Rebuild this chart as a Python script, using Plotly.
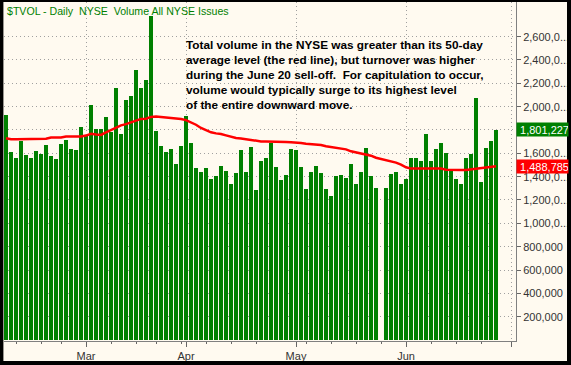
import plotly.graph_objects as go

# ---------------- data ----------------
# daily NYSE total volume (shares); one slot per trading day, None = holiday gap
volume = [
    1931000, 1614000, 1562000, 1708000, 1588000, 1562000, 1622000, 1597000, 1674000, 1579000,
    1554000, 1682000, 1717000, 1640000, 1631000, 1828000, 1751000, 2017000, 1811000, 1811000,
    1914000, 1785000, 2163000, 1768000, 2060000, 2094000, 2318000, 2163000, 2232000, 2773000,
    1794000, 1665000, 1614000, 1640000, 1511000,
    1665000, 1923000, 1691000, 1476000, 1442000, 1476000, 1382000, 1408000, 1494000, 1451000,
    1339000, 1433000, 1631000, 1442000, 1657000, 1288000, 1536000, 1562000, 1691000, 1485000,
    1373000, 1416000, 1640000, 1631000, 1485000, 1296000, 1442000, 1494000, 1433000, 1296000,
    1236000, 1408000, 1416000, 1391000,
    1511000, 1339000, 1442000, 1648000, 1408000, 1305000, None, 1305000, 1425000, 1442000,
    1339000, 1382000, 1562000, 1562000, 1536000, 1768000, 1536000, 1640000, 1691000, 1605000,
    1459000, 1382000, 1339000, 1562000, 1597000, 2077000, 1356000, 1648000, 1708000, 1801227,
]

# 50-day moving average of volume (red line)
ma50 = [
    1730000, 1720000, 1720000, 1720000, 1720000, 1720000, 1725000, 1725000, 1725000, 1735000,
    1735000, 1735000, 1745000, 1745000, 1745000, 1745000, 1752000, 1768000, 1762000, 1758000,
    1780000, 1800000, 1822000, 1840000, 1850000, 1865000, 1875000, 1895000, 1897000, 1912000,
    1915000, 1912000, 1906000, 1904000, 1900000,
    1895000, 1885000, 1868000, 1845000, 1817000, 1800000, 1780000, 1771000, 1766000, 1754000,
    1740000, 1731000, 1728000, 1720000, 1714000, 1708000, 1702000, 1702000, 1702000, 1700000,
    1697000, 1697000, 1694000, 1694000, 1688000, 1682000, 1677000, 1677000, 1671000, 1660000,
    1654000, 1645000, 1640000, 1634000,
    1617000, 1608000, 1602000, 1594000, 1580000, 1562000, None, 1543000, 1532000, 1520000,
    1503000, 1480000, 1469000, 1469000, 1469000, 1469000, 1469000, 1469000, 1469000, 1460000,
    1457000, 1457000, 1457000, 1457000, 1462000, 1471000, 1474000, 1476000, 1483000, 1488785,
]

slots = list(range(len(volume)))

month_slots = [16, 36, 58, 80, 101]
month_labels = ["Mar", "Apr", "May", "Jun", ""]
week_slots = [2, 7, 11, 21, 26, 30, 35, 40, 45, 50, 60, 65, 70, 75, 85, 90, 95]

y_tick_vals = [200000, 400000, 600000, 800000, 1000000, 1200000, 1400000,
               1600000, 1800000, 2000000, 2200000, 2400000, 2600000]
y_tick_text = ["200,000", "400,000", "600,000", "800,000", "1,000,0...", "1,200,0...",
               "1,400,0...", "1,600,0...", "", "2,000,0...", "2,200,0...",
               "2,400,0...", "2,600,0..."]

title_text = "$TVOL - Daily  NYSE  Volume All NYSE Issues"
note_lines = [
    "Total volume in the NYSE was greater than its 50-day",
    "average level (the red line), but turnover was higher",
    "during the June 20 sell-off.  For capitulation to occur,",
    "volume would typically surge to its highest level",
    "of the entire downward move.",
]
last_volume = volume[-1]
last_ma = ma50[-1]

# ---------------- layout geometry ----------------
W, H = 571, 365
PL, PR, PT, PB = 4, 516, 2, 341

def px_x(p):
    return (p - PL) / (PR - PL)

def px_y(p):
    return (PB - p) / (PB - PT)

CREAM = "#FFFAF0"
GREEN = "#008000"
RED = "#FF0000"
FONT = "Arial, Liberation Sans, sans-serif"

fig = go.Figure()
fig.add_trace(go.Bar(x=slots, y=volume, width=0.8, marker=dict(color=GREEN, line=dict(width=0)),
                     hoverinfo="skip"))
fig.add_trace(go.Scatter(x=slots, y=ma50, mode="lines", connectgaps=True,
                         line=dict(color=RED, width=2.5), hoverinfo="skip"))

ann = []
ann.append(dict(xref="paper", yref="paper", x=px_x(4.5), y=px_y(11), xanchor="left", yanchor="middle",
                text=title_text, showarrow=False,
                font=dict(family=FONT, size=10.6, color=GREEN)))
for i, line in enumerate(note_lines):
    ann.append(dict(xref="paper", yref="paper", x=px_x(184), y=px_y(45 + 15 * i),
                    xanchor="left", yanchor="middle", text="<b>" + line + "</b>", showarrow=False,
                    font=dict(family=FONT, size=11.8, color="#000000")))
for val, col in [(last_volume, GREEN), (last_ma, RED)]:
    ann.append(dict(xref="paper", yref="y", x=1.0, y=val, xanchor="left", yanchor="middle",
                    text=" " + f"{val:,.0f}", showarrow=False, align="left",
                    width=51, height=13, bgcolor=col, borderpad=0, xshift=0,
                    font=dict(family=FONT, size=11, color="#FFFFFF")))

shapes = [
    dict(type="rect", xref="paper", yref="paper", x0=px_x(-2), x1=px_x(3.4), y0=px_y(-2), y1=px_y(367),
         fillcolor="#000000", line=dict(width=0), layer="above"),
    dict(type="rect", xref="paper", yref="paper", x0=px_x(-2), x1=px_x(573), y0=px_y(-2), y1=px_y(2),
         fillcolor="#000000", line=dict(width=0), layer="above"),
    dict(type="rect", xref="paper", yref="paper", x0=px_x(567), x1=px_x(573), y0=px_y(-2), y1=px_y(367),
         fillcolor="#000000", line=dict(width=0), layer="above"),
    dict(type="rect", xref="paper", yref="paper", x0=px_x(-2), x1=px_x(573), y0=px_y(361), y1=px_y(367),
         fillcolor="#000000", line=dict(width=0), layer="above"),
]

fig.update_layout(
    width=W, height=H,
    margin=dict(l=PL, r=W - PR, t=PT, b=H - PB, pad=0, autoexpand=False),
    paper_bgcolor=CREAM, plot_bgcolor=CREAM,
    showlegend=False, bargap=0,
    font=dict(family=FONT, size=11, color="#333333"),
    annotations=ann, shapes=shapes,
    xaxis=dict(range=[-0.4, 102.0], tickmode="array", tickvals=month_slots, ticktext=month_labels,
               ticks="outside", ticklen=5, tickcolor="#666666", tickwidth=1,
               showline=True, linecolor="#808080", linewidth=1,
               showgrid=True, gridcolor="#A0A0A0", griddash="1px,3px", gridwidth=1,
               zeroline=False, fixedrange=True, automargin=False,
               tickfont=dict(family=FONT, size=11, color="#333333"),
               minor=dict(tickmode="array", tickvals=week_slots, ticks="outside", ticklen=2,
                          tickcolor="#666666", showgrid=False)),
    yaxis=dict(range=[-8572, 2897000], side="right", tickmode="array",
               tickvals=y_tick_vals, ticktext=y_tick_text,
               ticks="outside", ticklen=4, tickcolor="#666666",
               showline=True, linecolor="#808080", linewidth=1,
               showgrid=True, gridcolor="#A0A0A0", griddash="1px,3px", gridwidth=1,
               zeroline=False, fixedrange=True, automargin=False,
               tickfont=dict(family=FONT, size=11, color="#333333")),
)

fig.write_html("out.html", config={"displayModeBar": False},
               post_script="document.body.style.margin='0';document.body.style.padding='0';"
                           "document.body.style.background='#000';")
